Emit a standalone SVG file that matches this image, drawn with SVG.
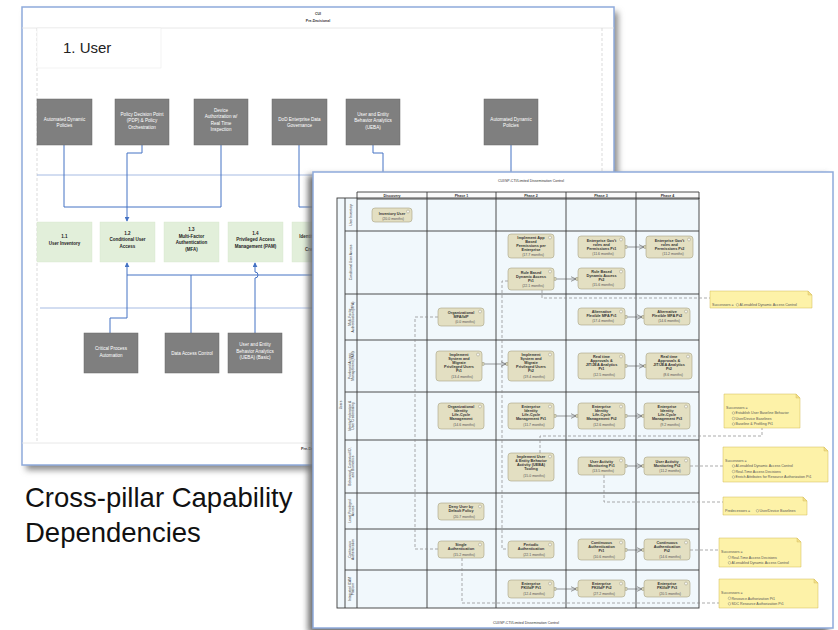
<svg xmlns="http://www.w3.org/2000/svg" width="838" height="630" viewBox="0 0 838 630">
<defs>
<style>
text{font-family:"Liberation Sans",Arial,sans-serif}
.page{fill:#fff;stroke:#8eaadb;stroke-width:1.5}
.thin{stroke:#e2e2e2;stroke-width:0.8}
.vdash{stroke:#d2d2d2;stroke-width:0.8;stroke-dasharray:3 2}
.gb{fill:#7f7f7f;stroke:#6a6a6a;stroke-width:0.5}
.gt{fill:#fff;font-size:4.6px;text-anchor:middle}
.grn{fill:#e2efda;stroke:#d5e6cb;stroke-width:0.4}
.gnt{fill:#222;font-size:4.5px;font-weight:bold;text-anchor:middle}
.conn{stroke:#4472c4;stroke-width:1;fill:none}
.sep{stroke:#8faadc;stroke-width:0.8;fill:none}
.cell{fill:#f1f8fc}
.grid{stroke:#3a3a3a;stroke-width:0.9;fill:none}
.hd{fill:#333;font-size:3.6px;font-weight:bold;text-anchor:middle}
.rl{fill:#333;font-size:3.3px;text-anchor:middle}
.act{fill:#e3dfc2;stroke:#a8a384;stroke-width:0.6}
.ico{fill:#f4f4f0;stroke:#8e8a70;stroke-width:0.4}
.at{fill:#333;font-size:3.8px;font-weight:bold;text-anchor:middle}
.mo{fill:#555;font-size:3.5px;font-weight:normal}
.port{fill:#e3dfc2;stroke:#8e8a70;stroke-width:0.4}
.flow{stroke:#555;stroke-width:0.6;fill:none}
.dash{stroke:#888;stroke-width:0.7;stroke-dasharray:3 2;fill:none}
.note{fill:#fdf2a8;stroke:#d2b855;stroke-width:0.5}
.fold{fill:#f3e08a;stroke:#d2b855;stroke-width:0.4}
.nt{fill:#555;font-size:3.6px}
.nc{fill:none;stroke:#777;stroke-width:0.4}
.pt{fill:#333;font-size:3.5px;text-anchor:middle}
</style>
<marker id="ab" viewBox="0 0 6 6" refX="5" refY="3" markerWidth="5" markerHeight="5" orient="auto">
<path d="M0,0 L6,3 L0,6 z" fill="#4472c4"/>
</marker>
<marker id="ao" viewBox="0 0 6 6" refX="5.5" refY="3" markerWidth="6" markerHeight="6" orient="auto" markerUnits="userSpaceOnUse">
<path d="M0,0.5 L5.5,3 L0,5.5" fill="none" stroke="#555" stroke-width="0.6"/>
</marker>
<filter id="sh" x="-10%" y="-10%" width="120%" height="120%">
<feGaussianBlur stdDeviation="3"/>
</filter>
</defs>

<!-- ============ BACK PAGE ============ -->
<g id="back-page">
<rect x="26" y="12" width="592" height="458" fill="#8a8a8a" filter="url(#sh)"/>
<rect class="page" x="22" y="7" width="592" height="458"/>
<line class="thin" x1="22" y1="28" x2="614" y2="28"/>
<line class="thin" x1="22" y1="443" x2="614" y2="443"/>
<line class="vdash" x1="37" y1="28" x2="37" y2="443"/>
<line class="vdash" x1="602" y1="28" x2="602" y2="443"/>
<text x="318" y="15" class="pt" font-weight="bold">CUI</text>
<text x="318" y="22" class="pt" font-weight="bold">Pre-Decisional</text>
<text x="301" y="450" fill="#333" font-size="3.8" font-weight="bold">Pre-Decisional</text>
<line class="sep" x1="37" y1="175" x2="602" y2="175"/>
<line class="sep" x1="40" y1="308" x2="602" y2="308"/>
</g>

<g id="title-user">
<rect x="37" y="28" width="124" height="40" fill="#fff" stroke="#ececec" stroke-width="0.6"/>
<text x="63" y="53" font-size="15" fill="#222" font-family="'Open Sans','Liberation Sans',sans-serif">1. User</text>
</g>

<g id="back-connectors">
<polyline class="conn" points="64,145 64,207 221,207"/>
<line class="conn" x1="221" y1="145" x2="221" y2="207"/>
<polyline class="conn" points="142,145 142,153 127,153 127,221" marker-end="url(#ab)"/>
<polyline class="conn" points="299,145 299,207 330,207"/>
<polyline class="conn" points="373,145 373,153 383,153 383,200"/>
<line class="conn" x1="511" y1="145" x2="511" y2="200"/>
<line class="conn" x1="127" y1="275" x2="330" y2="275"/>
<polyline class="conn" points="110,333 110,318 127,318 127,263" marker-end="url(#ab)"/>
<line class="conn" x1="191" y1="333" x2="191" y2="275"/>
<path class="conn" d="M255,333 V278 A2.5,2.5 0 0 0 255,272 V263" marker-end="url(#ab)"/>
</g>

<g id="bp-auto-dyn-1"><rect class="gb" x="37" y="99" width="55" height="46"/><text class="gt"><tspan x="64.5" y="120.5">Automated Dynamic</tspan><tspan x="64.5" y="126.5">Policies</tspan></text></g>
<g id="bp-pdp"><rect class="gb" x="115" y="99" width="54" height="46"/><text class="gt"><tspan x="142" y="115.5">Policy Decision Point</tspan><tspan x="142" y="122">(PDP) &amp; Policy</tspan><tspan x="142" y="128.5">Orchestration</tspan></text></g>
<g id="bp-device"><rect class="gb" x="194" y="99" width="54" height="46"/><text class="gt"><tspan x="221" y="111.5">Device</tspan><tspan x="221" y="118">Authorization w/</tspan><tspan x="221" y="124.5">Real Time</tspan><tspan x="221" y="131">Inspection</tspan></text></g>
<g id="bp-dod-data"><rect class="gb" x="272" y="99" width="55" height="46"/><text class="gt"><tspan x="299.5" y="120.5">DoD Enterprise Data</tspan><tspan x="299.5" y="126.5">Governance</tspan></text></g>
<g id="bp-ueba"><rect class="gb" x="346" y="99" width="54" height="46"/><text class="gt"><tspan x="373" y="115.5">User and Entity</tspan><tspan x="373" y="122">Behavior Analytics</tspan><tspan x="373" y="128.5">(UEBA)</tspan></text></g>
<g id="bp-auto-dyn-2"><rect class="gb" x="484" y="99" width="54" height="46"/><text class="gt"><tspan x="511" y="120.5">Automated Dynamic</tspan><tspan x="511" y="126.5">Policies</tspan></text></g>

<g id="cap-1-1"><rect class="grn" x="37" y="222" width="55" height="40"/><text class="gnt"><tspan x="64.5" y="238">1.1</tspan><tspan x="64.5" y="244.5">User Inventory</tspan></text></g>
<g id="cap-1-2"><rect class="grn" x="100" y="222" width="55" height="40"/><text class="gnt"><tspan x="127.5" y="234.5">1.2</tspan><tspan x="127.5" y="241">Conditional User</tspan><tspan x="127.5" y="247.5">Access</tspan></text></g>
<g id="cap-1-3"><rect class="grn" x="164" y="222" width="55" height="40"/><text class="gnt"><tspan x="191.5" y="231">1.3</tspan><tspan x="191.5" y="237.5">Multi-Factor</tspan><tspan x="191.5" y="244">Authentication</tspan><tspan x="191.5" y="250.5">(MFA)</tspan></text></g>
<g id="cap-1-4"><rect class="grn" x="228" y="222" width="55" height="40"/><text class="gnt"><tspan x="255.5" y="234.5">1.4</tspan><tspan x="255.5" y="241">Privileged Access</tspan><tspan x="255.5" y="247.5">Management (PAM)</tspan></text></g>
<g id="cap-1-5"><rect class="grn" x="292" y="222" width="55" height="40"/><text class="gnt"><tspan x="319.5" y="231">1.5</tspan><tspan x="319.5" y="237.5">Identity Federation</tspan><tspan x="319.5" y="244">&amp; User</tspan><tspan x="319.5" y="250.5">Credentialing</tspan></text></g>

<g id="bp-critical"><rect class="gb" x="84" y="333" width="54" height="40"/><text class="gt"><tspan x="111" y="350">Critical Process</tspan><tspan x="111" y="356.5">Automation</tspan></text></g>
<g id="bp-data-access"><rect class="gb" x="165" y="333" width="54" height="40"/><text class="gt"><tspan x="192" y="355">Data Access Control</tspan></text></g>
<g id="bp-ueba-basic"><rect class="gb" x="228" y="333" width="54" height="40"/><text class="gt"><tspan x="255" y="346">User and Entity</tspan><tspan x="255" y="352.5">Behavior Analytics</tspan><tspan x="255" y="359">(UEBA) (Basic)</tspan></text></g>

<!-- caption -->
<g id="caption">
<text font-size="27.5" fill="#111"><tspan x="25" y="507">Cross-pillar Capability</tspan><tspan x="25" y="542">Dependencies</tspan></text>
</g>

<!-- ============ FRONT PAGE ============ -->
<g id="front-page">
<rect x="308" y="175" width="520" height="458" fill="#6e6e6e" filter="url(#sh)"/>
<rect class="page" x="313" y="172" width="520" height="456"/>
<text x="531" y="182" class="pt" fill="#666" font-size="3.6">CUI/SP-CTI/Limited Dissemination Control</text>
<text x="526" y="624" class="pt" fill="#666" font-size="3.6">CUI/SP-CTI/Limited Dissemination Control</text>
</g>

<g id="table">
<rect class="cell" x="337" y="198" width="362" height="410"/>
<rect x="357" y="192" width="342" height="7" fill="#fafafa"/>
<rect class="grid" x="337" y="198" width="362" height="410"/>
<polyline class="grid" points="357,199 357,192 699,192 699,199"/>
<line class="grid" x1="357" y1="199" x2="699" y2="199"/>
<line class="grid" x1="345" y1="198" x2="345" y2="608"/>
<line class="grid" x1="357" y1="199" x2="357" y2="608"/>
<line class="grid" x1="427" y1="192" x2="427" y2="608"/>
<line class="grid" x1="496" y1="192" x2="496" y2="608"/>
<line class="grid" x1="566" y1="192" x2="566" y2="608"/>
<line class="grid" x1="636" y1="192" x2="636" y2="608"/>
<line class="grid" x1="345" y1="231" x2="699" y2="231"/>
<line class="grid" x1="345" y1="294" x2="699" y2="294"/>
<line class="grid" x1="345" y1="340" x2="699" y2="340"/>
<line class="grid" x1="345" y1="392" x2="699" y2="392"/>
<line class="grid" x1="345" y1="440" x2="699" y2="440"/>
<line class="grid" x1="345" y1="493" x2="699" y2="493"/>
<line class="grid" x1="345" y1="529" x2="699" y2="529"/>
<line class="grid" x1="345" y1="570" x2="699" y2="570"/>
<text class="hd" x="392" y="197.3">Discovery</text>
<text class="hd" x="461.5" y="197.3">Phase 1</text>
<text class="hd" x="531" y="197.3">Phase 2</text>
<text class="hd" x="601" y="197.3">Phase 3</text>
<text class="hd" x="667.5" y="197.3">Phase 4</text>
<text class="rl" transform="translate(342.3,405) rotate(-90)">Users</text>
<text class="rl" transform="translate(352.3,215) rotate(-90)">User Inventory</text>
<text class="rl" transform="translate(352.3,262.5) rotate(-90)">Conditional User Access</text>
<text class="rl" transform="translate(350.5,317) rotate(-90)"><tspan x="0" y="0">Multi-Factor</tspan><tspan x="0" y="3.7">Authentication (MFA)</tspan></text>
<text class="rl" transform="translate(350.5,366) rotate(-90)"><tspan x="0" y="0">Privileged Access</tspan><tspan x="0" y="3.7">Management (PAM)</tspan></text>
<text class="rl" transform="translate(350.5,416) rotate(-90)"><tspan x="0" y="0">Identity Federation &amp;</tspan><tspan x="0" y="3.7">User Credentialing</tspan></text>
<text class="rl" transform="translate(350.5,466.5) rotate(-90)"><tspan x="0" y="0">Behavioral, Contextual ID,</tspan><tspan x="0" y="3.7">and Biometrics</tspan></text>
<text class="rl" transform="translate(350.5,511) rotate(-90)"><tspan x="0" y="0">Least Privileged</tspan><tspan x="0" y="3.7">Access</tspan></text>
<text class="rl" transform="translate(350.5,549.5) rotate(-90)"><tspan x="0" y="0">Continuous</tspan><tspan x="0" y="3.7">Authentication</tspan></text>
<text class="rl" transform="translate(350.5,589) rotate(-90)"><tspan x="0" y="0">Integrated ICAM</tspan><tspan x="0" y="3.7">Platform</tspan></text>
</g>

<g id="front-connectors">
<polyline class="dash" points="438,317 415,317 415,549 438,549"/>
<polyline class="dash" points="508,281 502,281 502,549 508,549"/>
<polyline class="dash" points="542,290 542,298 710,298"/>
<polyline class="dash" points="540,453 540,436 762,436 762,428"/>
<polyline class="dash" points="690,466 723,466"/>
<polyline class="dash" points="604,475 604,502 723,502"/>
<polyline class="dash" points="690,550 719,550"/>
<polyline class="dash" points="462,558 462,603 719,603"/>
<line class="flow" x1="627" y1="247" x2="644" y2="247" marker-end="url(#ao)"/>
<line class="flow" x1="556" y1="279" x2="576" y2="279" marker-end="url(#ao)"/>
<line class="flow" x1="627" y1="317" x2="642" y2="317" marker-end="url(#ao)"/>
<line class="flow" x1="484" y1="364" x2="506" y2="364" marker-end="url(#ao)"/>
<line class="flow" x1="627" y1="366" x2="644" y2="366" marker-end="url(#ao)"/>
<line class="flow" x1="556" y1="416" x2="576" y2="416" marker-end="url(#ao)"/>
<line class="flow" x1="627" y1="416" x2="642" y2="416" marker-end="url(#ao)"/>
<line class="flow" x1="627" y1="466" x2="642" y2="466" marker-end="url(#ao)"/>
<line class="flow" x1="627" y1="550" x2="642" y2="550" marker-end="url(#ao)"/>
<line class="flow" x1="556" y1="589" x2="576" y2="589" marker-end="url(#ao)"/>
<line class="flow" x1="627" y1="589" x2="642" y2="589" marker-end="url(#ao)"/>
<rect class="port" x="625" y="245.5" width="2" height="3"/><rect class="port" x="644" y="245.5" width="2" height="3"/>
<rect class="port" x="554" y="277.5" width="2" height="3"/><rect class="port" x="576" y="277.5" width="2" height="3"/>
<rect class="port" x="625" y="315.5" width="2" height="3"/><rect class="port" x="642" y="315.5" width="2" height="3"/>
<rect class="port" x="482" y="362.5" width="2" height="3"/><rect class="port" x="506" y="362.5" width="2" height="3"/>
<rect class="port" x="625" y="364.5" width="2" height="3"/><rect class="port" x="644" y="364.5" width="2" height="3"/>
<rect class="port" x="554" y="414.5" width="2" height="3"/><rect class="port" x="576" y="414.5" width="2" height="3"/>
<rect class="port" x="625" y="414.5" width="2" height="3"/><rect class="port" x="642" y="414.5" width="2" height="3"/>
<rect class="port" x="625" y="464.5" width="2" height="3"/><rect class="port" x="642" y="464.5" width="2" height="3"/>
<rect class="port" x="625" y="548.5" width="2" height="3"/><rect class="port" x="642" y="548.5" width="2" height="3"/>
<rect class="port" x="554" y="587.5" width="2" height="3"/><rect class="port" x="576" y="587.5" width="2" height="3"/>
<rect class="port" x="625" y="587.5" width="2" height="3"/><rect class="port" x="642" y="587.5" width="2" height="3"/>
</g>

<g id="n-inventory-user"><rect class="act" x="372" y="208" width="40" height="14" rx="3"/><circle class="ico" cx="408" cy="211.5" r="1.5"/><text class="at"><tspan x="392" y="214.5">Inventory User</tspan><tspan class="mo" x="393" y="219.5">(20.0 months)</tspan></text></g>
<g id="n-app-perm"><rect class="act" x="508" y="234" width="46" height="24" rx="3"/><circle class="ico" cx="550" cy="237.5" r="1.5"/><text class="at"><tspan x="531" y="239">Implement App</tspan><tspan x="531" y="243">Based</tspan><tspan x="531" y="247">Permissions per</tspan><tspan x="531" y="251">Enterprise</tspan><tspan class="mo" x="533" y="256">(17.7 months)</tspan></text></g>
<g id="n-rule-pt1"><rect class="act" x="508" y="268" width="46" height="22" rx="3"/><circle class="ico" cx="550" cy="271.5" r="1.5"/><text class="at"><tspan x="531" y="273.5">Rule Based</tspan><tspan x="531" y="277.5">Dynamic Access</tspan><tspan x="531" y="281.5">Pt1</tspan><tspan class="mo" x="533" y="287">(22.1 months)</tspan></text></g>
<g id="n-gov-pt1"><rect class="act" x="578" y="236" width="47" height="22" rx="3"/><circle class="ico" cx="621" cy="239.5" r="1.5"/><text class="at"><tspan x="601.5" y="241.5">Enterprise Gov't</tspan><tspan x="601.5" y="245.5">roles and</tspan><tspan x="601.5" y="249.5">Permissions Pt1</tspan><tspan class="mo" x="603" y="255">(11.6 months)</tspan></text></g>
<g id="n-gov-pt2"><rect class="act" x="646" y="236" width="47" height="22" rx="3"/><circle class="ico" cx="689" cy="239.5" r="1.5"/><text class="at"><tspan x="669.5" y="241.5">Enterprise Gov't</tspan><tspan x="669.5" y="245.5">roles and</tspan><tspan x="669.5" y="249.5">Permissions Pt2</tspan><tspan class="mo" x="673" y="255">(11.2 months)</tspan></text></g>
<g id="n-rule-pt2"><rect class="act" x="578" y="268" width="47" height="21" rx="3"/><circle class="ico" cx="621" cy="271.5" r="1.5"/><text class="at"><tspan x="601.5" y="273">Rule Based</tspan><tspan x="601.5" y="277">Dynamic Access</tspan><tspan x="601.5" y="281">Pt2</tspan><tspan class="mo" x="603" y="286">(15.6 months)</tspan></text></g>
<g id="n-org-mfa"><rect class="act" x="438" y="308" width="46" height="18" rx="3"/><circle class="ico" cx="480" cy="311.5" r="1.5"/><text class="at"><tspan x="461" y="313.5">Organizational</tspan><tspan x="461" y="317.5">MFA/IdP</tspan><tspan class="mo" x="465" y="323">(0.0 months)</tspan></text></g>
<g id="n-alt-mfa-pt1"><rect class="act" x="578" y="308" width="47" height="17" rx="3"/><circle class="ico" cx="621" cy="311.5" r="1.5"/><text class="at"><tspan x="601.5" y="313">Alternative</tspan><tspan x="601.5" y="317">Flexible MFA Pt1</tspan><tspan class="mo" x="603" y="322">(17.4 months)</tspan></text></g>
<g id="n-alt-mfa-pt2"><rect class="act" x="644" y="308" width="46" height="17" rx="3"/><circle class="ico" cx="686" cy="311.5" r="1.5"/><text class="at"><tspan x="667" y="313">Alternative</tspan><tspan x="667" y="317">Flexible MFA Pt2</tspan><tspan class="mo" x="669" y="322">(14.6 months)</tspan></text></g>
<g id="n-priv-pt1"><rect class="act" x="436" y="351" width="46" height="30" rx="3"/><circle class="ico" cx="478" cy="354.5" r="1.5"/><text class="at"><tspan x="459" y="356">Implement</tspan><tspan x="459" y="360">System and</tspan><tspan x="459" y="364">Migrate</tspan><tspan x="459" y="368">Privileged Users</tspan><tspan x="459" y="372">Pt1</tspan><tspan class="mo" x="462" y="378">(13.4 months)</tspan></text></g>
<g id="n-priv-pt2"><rect class="act" x="508" y="351" width="46" height="30" rx="3"/><circle class="ico" cx="550" cy="354.5" r="1.5"/><text class="at"><tspan x="531" y="356">Implement</tspan><tspan x="531" y="360">System and</tspan><tspan x="531" y="364">Migrate</tspan><tspan x="531" y="368">Privileged Users</tspan><tspan x="531" y="372">Pt2</tspan><tspan class="mo" x="534" y="378">(19.4 months)</tspan></text></g>
<g id="n-jit-pt1"><rect class="act" x="578" y="353" width="47" height="26" rx="3"/><circle class="ico" cx="621" cy="356.5" r="1.5"/><text class="at"><tspan x="601.5" y="358">Real time</tspan><tspan x="601.5" y="362">Approvals &amp;</tspan><tspan x="601.5" y="366">JIT/JEA Analytics</tspan><tspan x="601.5" y="370">Pt1</tspan><tspan class="mo" x="604" y="376">(12.5 months)</tspan></text></g>
<g id="n-jit-pt2"><rect class="act" x="646" y="353" width="46" height="26" rx="3"/><circle class="ico" cx="688" cy="356.5" r="1.5"/><text class="at"><tspan x="669" y="358">Real time</tspan><tspan x="669" y="362">Approvals &amp;</tspan><tspan x="669" y="366">JIT/JEA Analytics</tspan><tspan x="669" y="370">Pt2</tspan><tspan class="mo" x="673" y="376">(8.6 months)</tspan></text></g>
<g id="n-org-ilcm"><rect class="act" x="438" y="403" width="46" height="26" rx="3"/><circle class="ico" cx="480" cy="406.5" r="1.5"/><text class="at"><tspan x="461" y="408">Organizational</tspan><tspan x="461" y="412">Identity</tspan><tspan x="461" y="416">Life-Cycle</tspan><tspan x="461" y="420">Management</tspan><tspan class="mo" x="464" y="426">(14.6 months)</tspan></text></g>
<g id="n-ilcm-pt1"><rect class="act" x="508" y="403" width="46" height="26" rx="3"/><circle class="ico" cx="550" cy="406.5" r="1.5"/><text class="at"><tspan x="531" y="408">Enterprise</tspan><tspan x="531" y="412">Identity</tspan><tspan x="531" y="416">Life-Cycle</tspan><tspan x="531" y="420">Management Pt1</tspan><tspan class="mo" x="534" y="426">(11.7 months)</tspan></text></g>
<g id="n-ilcm-pt2"><rect class="act" x="578" y="403" width="47" height="26" rx="3"/><circle class="ico" cx="621" cy="406.5" r="1.5"/><text class="at"><tspan x="601.5" y="408">Enterprise</tspan><tspan x="601.5" y="412">Identity</tspan><tspan x="601.5" y="416">Life-Cycle</tspan><tspan x="601.5" y="420">Management Pt2</tspan><tspan class="mo" x="604" y="426">(12.6 months)</tspan></text></g>
<g id="n-ilcm-pt3"><rect class="act" x="644" y="403" width="46" height="26" rx="3"/><circle class="ico" cx="686" cy="406.5" r="1.5"/><text class="at"><tspan x="667" y="408">Enterprise</tspan><tspan x="667" y="412">Identity</tspan><tspan x="667" y="416">Life-Cycle</tspan><tspan x="667" y="420">Management Pt3</tspan><tspan class="mo" x="670" y="426">(9.2 months)</tspan></text></g>
<g id="n-ueba-tool"><rect class="act" x="508" y="453" width="46" height="28" rx="3"/><circle class="ico" cx="550" cy="456.5" r="1.5"/><text class="at"><tspan x="531" y="458">Implement User</tspan><tspan x="531" y="462">&amp; Entity Behavior</tspan><tspan x="531" y="466">Activity (UEBA)</tspan><tspan x="531" y="470">Tooling</tspan><tspan class="mo" x="534" y="477">(15.0 months)</tspan></text></g>
<g id="n-uam-pt1"><rect class="act" x="578" y="457" width="47" height="18" rx="3"/><circle class="ico" cx="621" cy="460.5" r="1.5"/><text class="at"><tspan x="601.5" y="462.5">User Activity</tspan><tspan x="601.5" y="466.5">Monitoring Pt1</tspan><tspan class="mo" x="603" y="472">(13.5 months)</tspan></text></g>
<g id="n-uam-pt2"><rect class="act" x="644" y="457" width="46" height="18" rx="3"/><circle class="ico" cx="686" cy="460.5" r="1.5"/><text class="at"><tspan x="667" y="462.5">User Activity</tspan><tspan x="667" y="466.5">Monitoring Pt2</tspan><tspan class="mo" x="670" y="472">(11.2 months)</tspan></text></g>
<g id="n-deny-default"><rect class="act" x="438" y="503" width="46" height="17" rx="3"/><circle class="ico" cx="480" cy="506.5" r="1.5"/><text class="at"><tspan x="461" y="508">Deny User by</tspan><tspan x="461" y="512">Default Policy</tspan><tspan class="mo" x="464" y="517.5">(20.7 months)</tspan></text></g>
<g id="n-single-auth"><rect class="act" x="438" y="541" width="46" height="17" rx="3"/><circle class="ico" cx="480" cy="544.5" r="1.5"/><text class="at"><tspan x="461" y="546">Single</tspan><tspan x="461" y="550">Authentication</tspan><tspan class="mo" x="464" y="555.5">(15.2 months)</tspan></text></g>
<g id="n-periodic-auth"><rect class="act" x="508" y="541" width="46" height="17" rx="3"/><circle class="ico" cx="550" cy="544.5" r="1.5"/><text class="at"><tspan x="531" y="546">Periodic</tspan><tspan x="531" y="550">Authentication</tspan><tspan class="mo" x="534" y="555.5">(22.1 months)</tspan></text></g>
<g id="n-cont-auth-pt1"><rect class="act" x="578" y="539" width="47" height="21" rx="3"/><circle class="ico" cx="621" cy="542.5" r="1.5"/><text class="at"><tspan x="601.5" y="544">Continuous</tspan><tspan x="601.5" y="548">Authentication</tspan><tspan x="601.5" y="552">Pt1</tspan><tspan class="mo" x="604" y="557.5">(10.6 months)</tspan></text></g>
<g id="n-cont-auth-pt2"><rect class="act" x="644" y="539" width="46" height="21" rx="3"/><circle class="ico" cx="686" cy="542.5" r="1.5"/><text class="at"><tspan x="667" y="544">Continuous</tspan><tspan x="667" y="548">Authentication</tspan><tspan x="667" y="552">Pt2</tspan><tspan class="mo" x="670" y="557.5">(14.6 months)</tspan></text></g>
<g id="n-pki-pt1"><rect class="act" x="508" y="580" width="46" height="18" rx="3"/><circle class="ico" cx="550" cy="583.5" r="1.5"/><text class="at"><tspan x="531" y="585">Enterprise</tspan><tspan x="531" y="589">PKI/IdP Pt1</tspan><tspan class="mo" x="534" y="594.5">(12.4 months)</tspan></text></g>
<g id="n-pki-pt2"><rect class="act" x="578" y="580" width="47" height="17" rx="3"/><circle class="ico" cx="621" cy="583.5" r="1.5"/><text class="at"><tspan x="601.5" y="585">Enterprise</tspan><tspan x="601.5" y="589">PKI/IdP Pt2</tspan><tspan class="mo" x="604" y="594.5">(27.2 months)</tspan></text></g>
<g id="n-pki-pt3"><rect class="act" x="644" y="580" width="46" height="17" rx="3"/><circle class="ico" cx="686" cy="583.5" r="1.5"/><text class="at"><tspan x="667" y="585">Enterprise</tspan><tspan x="667" y="589">PKI/IdP Pt3</tspan><tspan class="mo" x="670" y="594.5">(20.5 months)</tspan></text></g>

<g id="note-1"><path class="note" d="M710,291 H808 L812,295 V308 H710 Z"/><path class="fold" d="M808,291 V295 H812 Z"/><text class="nt" x="712" y="306">Successors = </text><circle class="nc" cx="737.5" cy="304.8" r="1.3"/><text class="nt" x="739.5" y="306">AI-enabled Dynamic Access Control</text></g>
<g id="note-2"><path class="note" d="M724,394 H796 L800,398 V428 H724 Z"/><path class="fold" d="M796,394 V398 H800 Z"/><text class="nt" x="726" y="409">Successors =</text><circle class="nc" cx="733.5" cy="413" r="1.3"/><text class="nt" x="735.5" y="414.2">Establish User Baseline Behavior</text><circle class="nc" cx="733.5" cy="418.5" r="1.3"/><text class="nt" x="735.5" y="419.7">User/Device Baselines</text><circle class="nc" cx="733.5" cy="424" r="1.3"/><text class="nt" x="735.5" y="425.2">Baseline &amp; Profiling Pt1</text></g>
<g id="note-3"><path class="note" d="M723,447 H824 L828,451 V482 H723 Z"/><path class="fold" d="M824,447 V451 H828 Z"/><text class="nt" x="725" y="462">Successors =</text><circle class="nc" cx="733.5" cy="466" r="1.3"/><text class="nt" x="735.5" y="467.2">AI-enabled Dynamic Access Control</text><circle class="nc" cx="733.5" cy="471.5" r="1.3"/><text class="nt" x="735.5" y="472.7">Real-Time Access Decisions</text><circle class="nc" cx="733.5" cy="477" r="1.3"/><text class="nt" x="735.5" y="478.2">Enrich Attributes for Resource Authorization Pt1</text></g>
<g id="note-4"><path class="note" d="M723,497 H803 L807,501 V515 H723 Z"/><path class="fold" d="M803,497 V501 H807 Z"/><text class="nt" x="725" y="512">Predecessors = </text><circle class="nc" cx="757.5" cy="510.8" r="1.3"/><text class="nt" x="759.5" y="512">User/Device Baselines</text></g>
<g id="note-5"><path class="note" d="M719,538 H797 L801,542 V567 H719 Z"/><path class="fold" d="M797,538 V542 H801 Z"/><text class="nt" x="721" y="553">Successors =</text><circle class="nc" cx="729.5" cy="557.3" r="1.3"/><text class="nt" x="731.5" y="558.5">Real-Time Access Decisions</text><circle class="nc" cx="729.5" cy="562.8" r="1.3"/><text class="nt" x="731.5" y="564">AI-enabled Dynamic Access Control</text></g>
<g id="note-6"><path class="note" d="M719,579 H814 L818,583 V608 H719 Z"/><path class="fold" d="M814,579 V583 H818 Z"/><text class="nt" x="721" y="594">Successors =</text><circle class="nc" cx="729.5" cy="598.3" r="1.3"/><text class="nt" x="731.5" y="599.5">Resource Authorization Pt1</text><circle class="nc" cx="729.5" cy="603.8" r="1.3"/><text class="nt" x="731.5" y="605">SDC Resource Authorization Pt1</text></g>
</svg>
